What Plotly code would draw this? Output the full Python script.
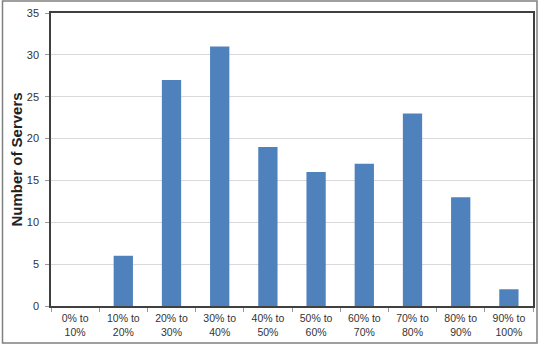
import plotly.graph_objects as go

categories = ["0% to<br>10%", "10% to<br>20%", "20% to<br>30%", "30% to<br>40%", "40% to<br>50%",
              "50% to<br>60%", "60% to<br>70%", "70% to<br>80%", "80% to<br>90%", "90% to<br>100%"]
servers = [0, 6, 27, 31, 19, 16, 17, 23, 13, 2]
y_ticks = [0, 5, 10, 15, 20, 25, 30, 35]

fig = go.Figure(go.Bar(x=categories, y=servers, marker_color="#4F81BD", marker_line_width=0))

L, R, T, B = 51, 11, 13, 40
W, H = 544, 346
pw, ph = W - L - R, H - T - B

fig.update_layout(
    width=W, height=H,
    margin=dict(l=L, r=R, t=T, b=B, autoexpand=False),
    paper_bgcolor="white", plot_bgcolor="white",
    bargap=0.6,
    showlegend=False,
    font=dict(family="Liberation Sans, Arial, sans-serif", size=11, color="#333333"),
    xaxis=dict(
        showline=True, linecolor="#404040", linewidth=1.5, mirror=True, automargin=False,
        ticks="outside", tickson="boundaries", ticklen=4, tickcolor="#999999",
        tickfont=dict(size=10.5, color="#333333"), showgrid=False, ticklabelstandoff=2,
    ),
    yaxis=dict(
        range=[0, 35], tickvals=y_ticks, showgrid=True, gridcolor="#d9d9d9", gridwidth=1,
        showline=True, linecolor="#404040", linewidth=1.5, mirror=True, automargin=False,
        ticks="outside", ticklen=4, tickcolor="#999999", ticklabelstandoff=4,
        tickfont=dict(size=11, color="#333333"), zeroline=False,
        title=dict(text="<b>Number of Servers</b>", font=dict(size=15, color="#222222"), standoff=1),
    ),
    shapes=[dict(
        type="rect", xref="paper", yref="paper",
        x0=(2.5 - L) / pw, x1=(537 - L) / pw,
        y0=(H - 343 - B) / ph, y1=(H - 1 - B) / ph,
        line=dict(color="#808080", width=1.5), fillcolor="rgba(0,0,0,0)", layer="below",
    )],
)

fig.write_html("out.html")
